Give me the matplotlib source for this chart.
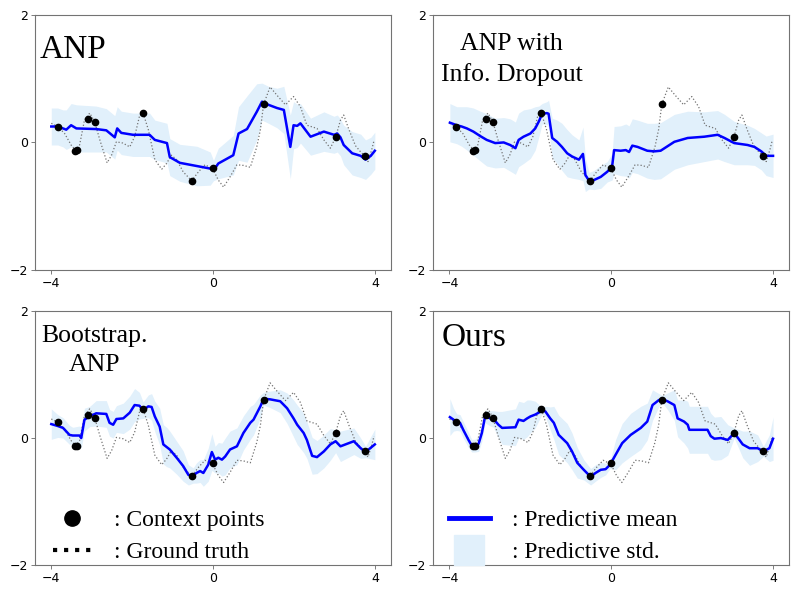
import numpy as np
import matplotlib
matplotlib.use("Agg")
import matplotlib.pyplot as plt
from matplotlib.lines import Line2D

#--------------------------------------------------------------------------
"""Data (read off the reference picture)"""
#--------------------------------------------------------------------------
# ground truth function (same in all panels)
gt_x = [-4.00, -3.84, -3.67, -3.51, -3.40, -3.30, -3.18, -3.05, -2.93, -2.80,
        -2.62, -2.51, -2.39, -2.23, -2.06, -1.94, -1.82, -1.73, -1.60, -1.44,
        -1.27, -1.15, -1.03, -0.90, -0.74, -0.53, -0.36, -0.20, -0.01, 0.13,
        0.26, 0.42, 0.59, 0.75, 0.92, 1.08, 1.17, 1.25, 1.41, 1.58, 1.79, 1.99,
        2.16, 2.32, 2.57, 2.74, 2.90, 3.03, 3.15, 3.23, 3.36, 3.52, 3.65, 3.75,
        3.83, 3.92, 3.98]
gt_y = [0.30, 0.25, 0.14, -0.04, -0.12, -0.04, 0.35, 0.46, 0.33, 0.04,
        -0.32, -0.20, 0.01, -0.01, -0.07, 0.09, 0.41, 0.46, 0.20, -0.27,
        -0.42, -0.33, -0.20, -0.27, -0.46, -0.60, -0.46, -0.35, -0.41, -0.59,
        -0.70, -0.54, -0.35, -0.36, -0.39, -0.07, 0.20, 0.60, 0.87, 0.74, 0.59, 0.72,
        0.56, 0.27, 0.22, 0.04, -0.09, 0.08, 0.35, 0.43, 0.20, -0.05, -0.15, -0.21,
        -0.30, -0.12, 0.03]

# context points
ctx_x = [-3.84, -3.42, -3.36, -3.09, -2.93, -1.73, -0.53, -0.01, 1.25, 3.03, 3.75]
ctx_y = [0.25, -0.13, -0.12, 0.36, 0.32, 0.46, -0.60, -0.40, 0.60, 0.08, -0.21]

# ANP
anp_x = [-4.00, -3.84, -3.71, -3.63, -3.51, -3.38, -2.89, -2.64, -2.43, -2.37,
         -2.27, -1.98, -1.57, -1.44, -1.14, -1.07, -0.82, -0.40, -0.07, 0.01,
         0.13, 0.50, 0.63, 0.84, 1.08, 1.21, 1.37, 1.58, 1.75, 1.91,
         1.99, 2.08, 2.16, 2.41, 2.74, 2.99, 3.07, 3.15, 3.23, 3.44,
         3.65, 3.77, 3.90, 4.00]
anp_mean = [0.25, 0.25, 0.22, 0.20, 0.27, 0.22, 0.21, 0.19, 0.08, 0.22,
            0.15, 0.12, 0.12, 0.04, -0.01, -0.23, -0.32, -0.37, -0.41, -0.44,
            -0.33, -0.20, 0.14, 0.21, 0.48, 0.64, 0.59, 0.54, 0.51, -0.07,
            0.27, 0.26, 0.30, 0.09, 0.17, 0.12, 0.14, 0.08, -0.04, -0.17,
            -0.21, -0.27, -0.21, -0.13]
anp_std = [0.29, 0.29, 0.29, 0.31, 0.34, 0.37, 0.36, 0.34, 0.34, 0.34,
           0.34, 0.34, 0.34, 0.31, 0.31, 0.29, 0.29, 0.31, 0.26, 0.16,
           0.24, 0.31, 0.42, 0.52, 0.44, 0.29, 0.29, 0.31, 0.37, 0.50,
           0.37, 0.34, 0.31, 0.29, 0.31, 0.29, 0.29, 0.29, 0.31, 0.34,
           0.34, 0.31, 0.29, 0.29]

# ANP with Info. Dropout
info_x = [-3.99, -3.82, -3.70, -3.57, -3.41, -3.24, -3.08, -2.87, -2.66, -2.50,
          -2.37, -2.29, -2.17, -2.00, -1.88, -1.79, -1.71, -1.59, -1.55, -1.46,
          -1.34, -1.22, -1.09, -0.97, -0.80, -0.70, -0.64, -0.55, -0.43, -0.26,
          -0.10, 0.02, 0.07, 0.23, 0.36, 0.44, 0.52, 0.65, 0.89, 1.06,
          1.22, 1.56, 1.89, 2.30, 2.63, 2.80, 3.04, 3.37, 3.54, 3.71,
          3.83, 4.00]
info_mean = [0.31, 0.27, 0.25, 0.22, 0.17, 0.10, 0.04, -0.01, 0.00, -0.04,
             -0.09, 0.04, 0.09, 0.14, 0.22, 0.33, 0.45, 0.46, 0.45, 0.07,
             0.01, -0.07, -0.17, -0.22, -0.27, -0.18, -0.51, -0.60, -0.59, -0.54,
             -0.46, -0.38, -0.12, -0.13, -0.12, -0.15, -0.05, -0.07, -0.13, -0.14,
             -0.13, 0.01, 0.07, 0.09, 0.12, 0.07, -0.01, -0.04, -0.07, -0.14,
             -0.21, -0.21]
info_std = [0.30, 0.29, 0.31, 0.34, 0.37, 0.39, 0.41, 0.39, 0.39, 0.41,
            0.41, 0.42, 0.42, 0.39, 0.34, 0.24, 0.16, 0.18, 0.21, 0.31,
            0.34, 0.37, 0.37, 0.34, 0.31, 0.42, 0.26, 0.13, 0.15, 0.18,
            0.16, 0.21, 0.37, 0.39, 0.41, 0.41, 0.42, 0.42, 0.43, 0.44,
            0.44, 0.43, 0.42, 0.39, 0.38, 0.37, 0.34, 0.31, 0.29, 0.29,
            0.31, 0.34]

# Bootstrap. ANP
boot_x = [-4.00, -3.84, -3.71, -3.55, -3.47, -3.30, -3.26, -3.18, -3.05, -2.89,
          -2.64, -2.56, -2.47, -2.39, -2.22, -2.06, -1.94, -1.82, -1.73, -1.60,
          -1.52, -1.44, -1.32, -1.23, -1.15, -1.07, -0.90, -0.74, -0.61, -0.49,
          -0.41, -0.32, -0.24, -0.12, -0.03, 0.05, 0.13, 0.22, 0.30, 0.42,
          0.59, 0.75, 0.92, 1.00, 1.17, 1.25, 1.41, 1.66, 1.83, 1.99,
          2.08, 2.24, 2.32, 2.45, 2.57, 2.74, 2.90, 3.03, 3.15, 3.48,
          3.65, 3.77, 4.00]
boot_mean = [0.22, 0.19, 0.16, 0.05, 0.04, 0.04, 0.00, 0.29, 0.34, 0.39,
             0.38, 0.24, 0.21, 0.30, 0.31, 0.40, 0.52, 0.51, 0.44, 0.50,
             0.49, 0.34, 0.18, -0.10, -0.14, -0.18, -0.31, -0.44, -0.58, -0.59,
             -0.55, -0.52, -0.55, -0.42, -0.22, -0.34, -0.31, -0.34, -0.29, -0.18,
             -0.13, 0.08, 0.24, 0.29, 0.50, 0.62, 0.61, 0.58, 0.47, 0.31,
             0.21, 0.08, -0.03, -0.28, -0.30, -0.21, -0.10, -0.05, -0.13, -0.05,
             -0.16, -0.22, -0.10]
boot_std = [0.24, 0.18, 0.16, 0.15, 0.13, 0.15, 0.16, 0.18, 0.16, 0.20,
            0.21, 0.21, 0.21, 0.21, 0.24, 0.26, 0.26, 0.21, 0.13, 0.18,
            0.21, 0.24, 0.29, 0.31, 0.31, 0.29, 0.26, 0.24, 0.16, 0.12,
            0.16, 0.18, 0.21, 0.26, 0.29, 0.21, 0.24, 0.26, 0.29, 0.29,
            0.29, 0.27, 0.26, 0.24, 0.18, 0.10, 0.13, 0.18, 0.24, 0.29,
            0.31, 0.31, 0.29, 0.29, 0.26, 0.26, 0.25, 0.18, 0.24, 0.21,
            0.16, 0.09, 0.24]

# Ours
ours_x = [-3.99, -3.90, -3.82, -3.74, -3.66, -3.53, -3.45, -3.37, -3.28, -3.20,
          -3.12, -2.99, -2.91, -2.79, -2.70, -2.37, -2.29, -2.17, -2.08, -2.00,
          -1.88, -1.71, -1.63, -1.51, -1.42, -1.30, -1.09, -0.97, -0.84, -0.68,
          -0.51, -0.39, -0.26, -0.14, -0.03, 0.11, 0.27, 0.48, 0.73, 0.89,
          1.02, 1.18, 1.27, 1.39, 1.56, 1.64, 1.80, 1.89, 1.93, 2.05,
          2.38, 2.46, 2.55, 2.71, 2.88, 3.04, 3.17, 3.25, 3.42, 3.62,
          3.76, 3.91, 4.00]
ours_mean = [0.33, 0.29, 0.25, 0.24, 0.13, -0.03, -0.12, -0.12, -0.09, 0.08,
             0.34, 0.31, 0.30, 0.21, 0.16, 0.17, 0.29, 0.27, 0.31, 0.34,
             0.37, 0.43, 0.42, 0.31, 0.24, 0.05, -0.08, -0.21, -0.39, -0.50,
             -0.61, -0.55, -0.50, -0.49, -0.42, -0.26, -0.08, 0.05, 0.16, 0.26,
             0.52, 0.60, 0.61, 0.58, 0.52, 0.31, 0.26, 0.21, 0.13, 0.13,
             0.13, 0.03, -0.01, 0.00, -0.03, 0.08, -0.03, -0.10, -0.16, -0.16,
             -0.21, -0.16, -0.01]
ours_std = [0.29, 0.18, 0.13, 0.13, 0.13, 0.12, 0.10, 0.10, 0.12, 0.13,
            0.10, 0.12, 0.13, 0.21, 0.26, 0.29, 0.29, 0.29, 0.29, 0.26,
            0.21, 0.05, 0.08, 0.18, 0.26, 0.31, 0.31, 0.29, 0.24, 0.16,
            0.13, 0.13, 0.12, 0.09, 0.06, 0.24, 0.31, 0.34, 0.34, 0.29,
            0.24, 0.10, 0.06, 0.13, 0.24, 0.29, 0.34, 0.37, 0.37, 0.37,
            0.37, 0.36, 0.34, 0.34, 0.24, 0.08, 0.16, 0.21, 0.27, 0.21,
            0.08, 0.21, 0.34]

titles = ["ANP", "ANP with\nInfo. Dropout", "Bootstrap.\nANP", "Ours"]

#--------------------------------------------------------------------------
"""Plot"""
#--------------------------------------------------------------------------
serif = "Liberation Serif"
band_color = "#e1f0fb"

fig = plt.figure(figsize=(7.98, 5.96), dpi=100)
rects = [[0.044, 0.547, 0.446, 0.428],
         [0.543, 0.547, 0.446, 0.428],
         [0.044, 0.052, 0.446, 0.426],
         [0.543, 0.052, 0.446, 0.426]]

panels = [(anp_x, anp_mean, anp_std),
          (info_x, info_mean, info_std),
          (boot_x, boot_mean, boot_std),
          (ours_x, ours_mean, ours_std)]

axes = []
for rect, (px, pm, ps) in zip(rects, panels):
    ax = fig.add_axes(rect)
    px = np.array(px); pm = np.array(pm); ps = np.array(ps)
    ax.fill_between(px, pm - ps, pm + ps, color=band_color, lw=0)
    ax.plot(gt_x, gt_y, ':', color='0.45', lw=0.9)
    ax.plot(px, pm, color='blue', lw=1.8)
    ax.plot(ctx_x, ctx_y, 'o', color='black', ms=4.5)
    ax.set_xlim(-4.4, 4.4)
    ax.set_ylim(-2, 2)
    ax.set_xticks([-4, 0, 4])
    ax.set_yticks([-2, 0, 2])
    ax.tick_params(labelsize=9, length=3, width=0.6, pad=2, color='0.4')
    for s in ax.spines.values():
        s.set_color('0.45')
        s.set_linewidth(0.8)
    axes.append(ax)

axes[0].text(0.012, 0.925, titles[0], transform=axes[0].transAxes,
             ha='left', va='top', fontsize=24, family=serif)
axes[1].text(0.22, 0.93, titles[1], transform=axes[1].transAxes,
             ha='center', va='top', fontsize=18.5, family=serif,
             multialignment='center', linespacing=1.45)
axes[2].text(0.166, 0.945, titles[2], transform=axes[2].transAxes,
             ha='center', va='top', fontsize=18.5, family=serif,
             multialignment='center', linespacing=1.4)
axes[3].text(0.022, 0.955, titles[3], transform=axes[3].transAxes,
             ha='left', va='top', fontsize=24, family=serif)

h_left = [Line2D([], [], marker='o', color='black', ls='none', ms=11),
          Line2D([], [], color='black', ls=':', lw=3)]
axes[2].legend(h_left, [': Context points', ': Ground truth'], loc='lower left',
               bbox_to_anchor=(0.018, -0.04),
               frameon=False, prop={'family': serif, 'size': 17},
               handlelength=1.6, handletextpad=0.95, borderaxespad=0.1,
               labelspacing=0.45)

h_right = [Line2D([], [], color='blue', lw=3.5),
           Line2D([], [], marker='s', ms=21, color=band_color, ls='none')]
axes[3].legend(h_right, [': Predictive mean', ': Predictive std.'], loc='lower left',
               bbox_to_anchor=(0.012, -0.04),
               frameon=False, prop={'family': serif, 'size': 17},
               handlelength=1.7, handletextpad=0.95,
               borderaxespad=0.1, labelspacing=0.45)

plt.savefig("out.png", dpi=100)
